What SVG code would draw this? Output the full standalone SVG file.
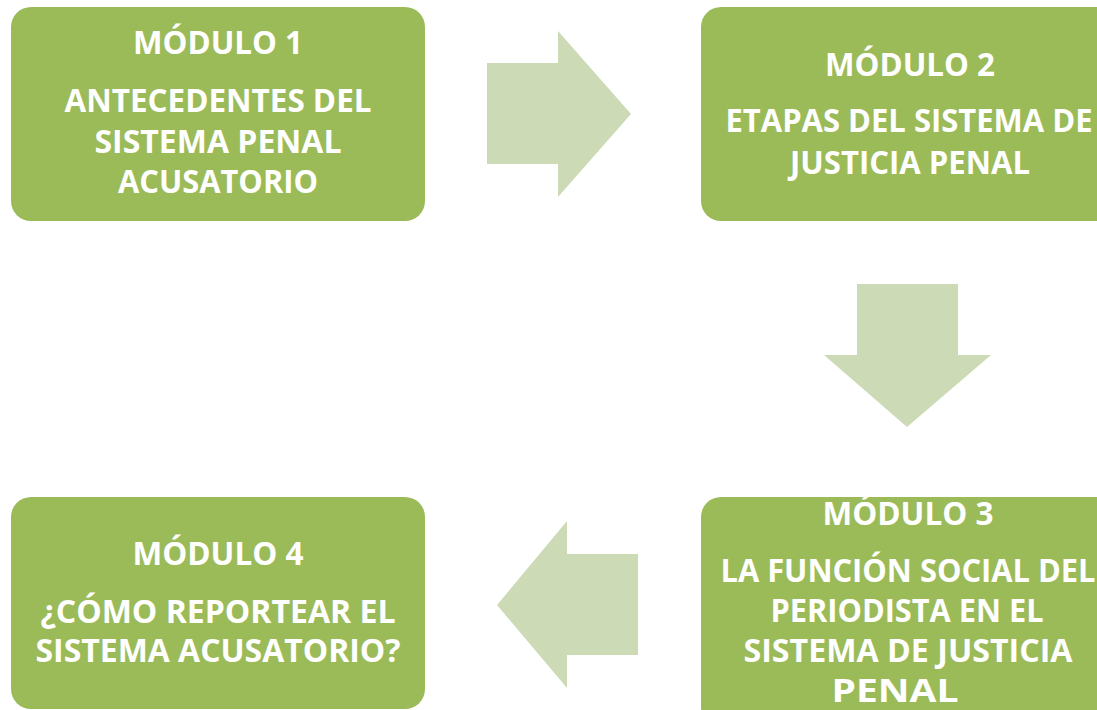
<svg xmlns="http://www.w3.org/2000/svg" width="1097" height="710" viewBox="0 0 1097 710">
<style>
.box{fill:#9BBB59;}
.arr{fill:#CCDAB5;}
text{font-family:"Open Sans","Liberation Sans",sans-serif;font-weight:700;font-size:33px;fill:#FFFFFF;text-anchor:middle;}
</style>
<rect width="1097" height="710" fill="#FFFFFF"/>
<g id="connectors">
<polygon class="arr" points="487,63 558,63 558,31 631,114 558,197 558,164 487,164"/>
<polygon class="arr" points="857,284 958,284 958,355 991,355 907,427 824,355 857,355"/>
<polygon class="arr" points="638,554 567,554 567,521 497,605 567,688 567,655 638,655"/>
</g>
<g id="node1">
<rect class="box" x="11" y="7" width="414" height="214" rx="20"/>
<text x="218" y="54" textLength="170" lengthAdjust="spacingAndGlyphs">MÓDULO 1</text>
<text x="218" y="112" textLength="307" lengthAdjust="spacingAndGlyphs">ANTECEDENTES DEL</text>
<text x="218" y="153" textLength="247" lengthAdjust="spacingAndGlyphs">SISTEMA PENAL</text>
<text x="218" y="193" textLength="200" lengthAdjust="spacingAndGlyphs">ACUSATORIO</text>
</g>
<g id="node2">
<rect class="box" x="701" y="7" width="418" height="214" rx="20"/>
<text x="910" y="76" textLength="170" lengthAdjust="spacingAndGlyphs">MÓDULO 2</text>
<text x="909" y="132" textLength="367" lengthAdjust="spacingAndGlyphs">ETAPAS DEL SISTEMA DE</text>
<text x="910" y="174" textLength="240" lengthAdjust="spacingAndGlyphs">JUSTICIA PENAL</text>
</g>
<g id="node3">
<rect class="box" x="701" y="497" width="418" height="230" rx="20"/>
<text x="908" y="525" textLength="171" lengthAdjust="spacingAndGlyphs">MÓDULO 3</text>
<text x="908" y="582" textLength="375" lengthAdjust="spacingAndGlyphs">LA FUNCIÓN SOCIAL DEL</text>
<text x="907" y="622" textLength="273" lengthAdjust="spacingAndGlyphs">PERIODISTA EN EL</text>
<text x="908" y="662" textLength="329" lengthAdjust="spacingAndGlyphs">SISTEMA DE JUSTICIA</text>
<text x="895" y="702" textLength="127" lengthAdjust="spacingAndGlyphs">PENAL</text>
</g>
<g id="node4">
<rect class="box" x="11" y="497" width="414" height="212" rx="20"/>
<text x="218" y="565" textLength="171" lengthAdjust="spacingAndGlyphs">MÓDULO 4</text>
<text x="218" y="623" textLength="355" lengthAdjust="spacingAndGlyphs">¿CÓMO REPORTEAR EL</text>
<text x="218" y="662" textLength="365" lengthAdjust="spacingAndGlyphs">SISTEMA ACUSATORIO?</text>
</g>
</svg>
